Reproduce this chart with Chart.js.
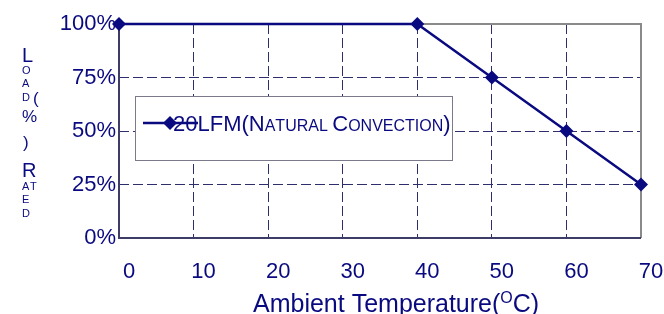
<!DOCTYPE html>
<html>
<head>
<meta charset="utf-8">
<script src="https://cdn.jsdelivr.net/npm/chart.js@4/dist/chart.umd.min.js"></script>
<style>
  html, body { margin: 0; padding: 0; background: #ffffff; }
  #wrap { width: 664px; height: 314px; position: relative; }
</style>
</head>
<body>
<div id="wrap"><canvas id="c" width="664" height="314"></canvas></div>
<script>
// ---- data ----
const temps = [0, 40, 50, 60, 70];          // Ambient temperature (°C)
const loads = [100, 100, 75, 50, 25];       // Load (%)
const xTicks = [0, 10, 20, 30, 40, 50, 60, 70];
const yTicks = [0, 25, 50, 75, 100];
const seriesName = '20LFM(Natural Convection)';
const xTitle = ['Ambient Temperature(', 'O', 'C)'];
const yTitleParts = [
  ['L', 20, 0, 62], ['O', 11, 0, 74], ['A', 11, 0, 87], ['D', 11, 0, 101],
  ['(', 17, 11, 104], ['%', 17, 0, 122], [')', 17, 1, 148], ['R', 20, 0, 177],
  ['A', 11, 0, 190], ['T', 11, 8, 190], ['E', 11, 0, 203], ['D', 11, 0, 217]
];

const NAVY = '#0a0a80';
const FONT = '"Liberation Sans", Arial, sans-serif';

const framePlugin = {
  id: 'frame',
  beforeDatasetsDraw(chart) {
    const { ctx, chartArea: a } = chart;
    ctx.save();
    ctx.lineWidth = 2;
    ctx.strokeStyle = '#8a8a8a';
    ctx.beginPath();
    ctx.moveTo(a.left, a.top); ctx.lineTo(a.right, a.top); ctx.lineTo(a.right, a.bottom);
    ctx.stroke();
    ctx.strokeStyle = '#3c3c66';
    ctx.beginPath();
    ctx.moveTo(a.left, a.top); ctx.lineTo(a.left, a.bottom); ctx.lineTo(a.right, a.bottom);
    ctx.stroke();

    // legend box
    const bx = a.left + 16, by = a.top + 72, bw = 317, bh = 64;
    ctx.fillStyle = '#ffffff';
    ctx.fillRect(bx, by, bw, bh);
    ctx.lineWidth = 1;
    ctx.strokeStyle = '#7a7a8a';
    ctx.strokeRect(bx + 0.5, by + 0.5, bw, bh);
    const ly = by + 27;
    ctx.strokeStyle = NAVY;
    ctx.lineWidth = 2.5;
    ctx.beginPath(); ctx.moveTo(bx + 8, ly); ctx.lineTo(bx + 63, ly); ctx.stroke();
    ctx.fillStyle = NAVY;
    ctx.beginPath();
    const mx = bx + 35, r = 7;
    ctx.moveTo(mx, ly - r); ctx.lineTo(mx + r, ly); ctx.lineTo(mx, ly + r); ctx.lineTo(mx - r, ly); ctx.closePath();
    ctx.fill();
    // small-caps legend text
    let tx = bx + 38;
    const ty = ly + 8;
    ctx.textBaseline = 'alphabetic';
    ctx.textAlign = 'left';
    for (const ch of seriesName) {
      const isLower = ch >= 'a' && ch <= 'z';
      const s = isLower ? ch.toUpperCase() : ch;
      ctx.font = ((isLower || ch === ' ') ? 16 : 22) + 'px ' + FONT;
      ctx.fillText(s, tx, ty);
      tx += ctx.measureText(s).width;
    }
    ctx.restore();
  },
  afterDraw(chart) {
    const { ctx, chartArea: a } = chart;
    ctx.save();
    ctx.fillStyle = NAVY;
    ctx.textBaseline = 'alphabetic';
    ctx.textAlign = 'left';
    // x title with superscript
    let x = a.left + 134;
    const y = 312;
    ctx.font = '25px ' + FONT;
    ctx.fillText(xTitle[0], x, y); x += ctx.measureText(xTitle[0]).width;
    ctx.font = '16px ' + FONT;
    ctx.fillText(xTitle[1], x, y - 9); x += ctx.measureText(xTitle[1]).width;
    ctx.font = '25px ' + FONT;
    ctx.fillText(xTitle[2], x, y);
    // stacked y title
    for (const [s, sz, dx, by] of yTitleParts) {
      ctx.font = sz + 'px ' + FONT;
      ctx.fillText(s, 22 + dx, by);
    }
    ctx.restore();
  }
};

new Chart(document.getElementById('c'), {
  type: 'line',
  data: {
    datasets: [{
      label: seriesName,
      data: temps.map((t, i) => ({ x: t, y: loads[i] })),
      borderColor: NAVY,
      backgroundColor: NAVY,
      borderWidth: 2.5,
      pointStyle: 'rectRot',
      pointRadius: 7,
      pointHoverRadius: 7,
      pointBackgroundColor: NAVY,
      pointBorderColor: NAVY,
      pointBorderWidth: 0,
      tension: 0,
      clip: false
    }]
  },
  options: {
    responsive: false,
    animation: false,
    events: [],
    layout: { padding: { top: 24, right: 23, left: 0, bottom: 0 } },
    plugins: { legend: { display: false }, tooltip: { enabled: false } },
    scales: {
      x: {
        type: 'linear',
        min: 0, max: 70,
        afterBuildTicks: s => { s.ticks = xTicks.map(v => ({ value: v })); },
        afterFit: s => { s.height = 76; s.paddingLeft = 0; s.paddingRight = 0; },
        ticks: { color: NAVY, font: { family: FONT, size: 22 }, padding: 21, labelOffset: 10, maxRotation: 0 },
        grid: {
          drawTicks: false,
          color: ctx => (ctx.tick && (ctx.tick.value === 0 || ctx.tick.value === 70)) ? 'rgba(0,0,0,0)' : '#2e2e6e',
          lineWidth: 1
        },
        border: { display: false, dash: [10, 4] }
      },
      y: {
        min: 0, max: 100,
        afterBuildTicks: s => { s.ticks = yTicks.map(v => ({ value: v })); },
        afterFit: s => { s.width = 119; s.paddingTop = 0; s.paddingBottom = 0; },
        ticks: { color: NAVY, font: { family: FONT, size: 22 }, padding: 3, callback: v => v + '%' },
        grid: {
          drawTicks: false,
          color: ctx => (ctx.tick && (ctx.tick.value === 0 || ctx.tick.value === 100)) ? 'rgba(0,0,0,0)' : '#2e2e6e',
          lineWidth: 1
        },
        border: { display: false, dash: [10, 4] }
      }
    }
  },
  plugins: [framePlugin]
});
</script>
</body>
</html>
